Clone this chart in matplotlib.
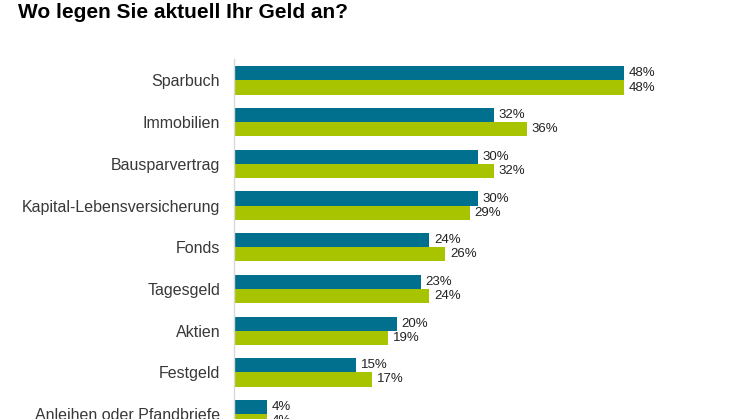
import matplotlib.pyplot as plt
import numpy as np

plt.rcParams['font.family'] = ['Liberation Sans', 'DejaVu Sans']

categories = ["Sparbuch", "Immobilien", "Bausparvertrag", "Kapital-Lebensversicherung",
              "Fonds", "Tagesgeld", "Aktien", "Festgeld", "Anleihen oder Pfandbriefe"]
series_a = [48, 32, 30, 30, 24, 23, 20, 15, 4]
series_b = [48, 36, 32, 29, 26, 24, 19, 17, 4]

teal = "#00708E"
lime = "#A8C400"

W, H = 746, 419
fig = plt.figure(figsize=(W / 100, H / 100), dpi=100)
# axes placed in pixel terms: left edge at x=234, top at y=59
ax = fig.add_axes([234 / W, 0, 1 - 234 / W, 1 - 59 / H])

y = np.arange(len(categories))
h = 0.34
ax.barh(y - h / 2, series_a, height=h, color=teal)
ax.barh(y + h / 2, series_b, height=h, color=lime)

for i in range(len(categories)):
    ax.text(series_a[i] + 0.6, y[i] - h / 2, "%d%%" % series_a[i], va='center', ha='left',
            fontsize=9.5, color='#222222')
    ax.text(series_b[i] + 0.6, y[i] + h / 2, "%d%%" % series_b[i], va='center', ha='left',
            fontsize=9.5, color='#222222')

ax.set_xlim(0, (W - 234) / 8.125)
ax.set_ylim((419 - 80.5) / 41.7, (59 - 80.5) / 41.7)
ax.set_yticks(y)
ax.set_yticklabels(categories, fontsize=11.5, color='#383838')
ax.tick_params(axis='y', length=0, pad=10)
ax.set_xticks([])
for s in ['top', 'right', 'bottom']:
    ax.spines[s].set_visible(False)
ax.spines['left'].set_color('#D9D9D9')
ax.spines['left'].set_linewidth(1)

fig.text(18 / W, 1 - 12 / H, "Wo legen Sie aktuell Ihr Geld an?", fontsize=15,
         fontweight='bold', va='center', ha='left', color='black')

fig.savefig("out.png", dpi=100)
